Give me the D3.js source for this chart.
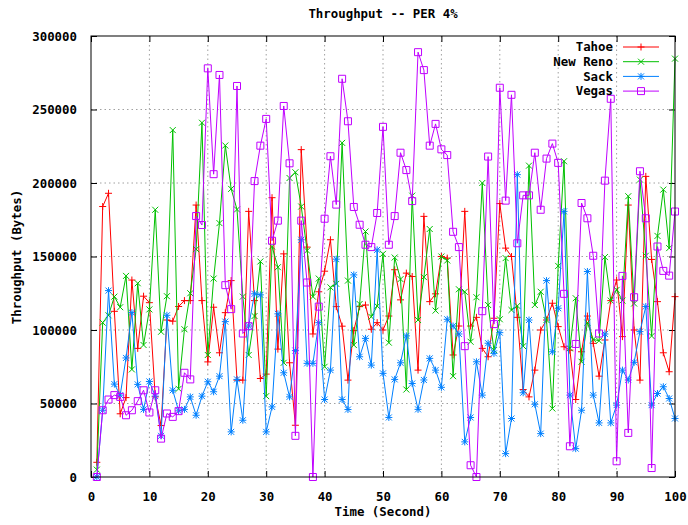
<!DOCTYPE html>
<html><head><meta charset="utf-8">
<script src="https://cdn.jsdelivr.net/npm/d3@7"></script>
<style>
body{margin:0;background:#fff;}
text{font-family:"DejaVu Sans Mono","Liberation Mono",monospace;font-weight:bold;font-size:12.4px;fill:#000;}
</style></head>
<body><svg id="c" width="688" height="525"></svg>
<script>
const times = d3.range(1, 101);
const tahoe = [10000,184000,193000,112700,43000,54000,134000,87500,123000,118600,
54500,35000,106800,106000,116000,120000,120000,185000,120000,78300,
115500,84500,111800,133600,65900,65900,180700,120000,67000,70000,
190000,87000,151800,77700,35200,222700,156400,97300,126000,140000,
161400,115900,102600,65900,99600,115900,117000,100500,105000,100000,
109500,141000,120500,138700,136400,72700,177300,119300,124600,150000,
148900,83000,102700,180700,102700,108600,87500,81800,108000,186000,
155700,150000,108600,59500,54500,72700,100000,106800,118200,102300,
88600,86300,52700,85200,109500,90900,68600,93200,120000,134000,
95500,185000,100000,65900,204500,148000,119300,84500,71600,122700];
const newReno = [5000,105000,110000,122700,115500,136800,73200,131800,89800,114000,
181800,98800,123000,236000,60000,100500,125000,155000,241000,83000,
135000,172700,225500,196000,182000,122700,83000,109500,146600,55000,
156800,142700,77700,203400,207300,184000,154000,122700,135000,75000,
129000,131400,227300,133600,89800,117700,167000,109000,116300,151800,
91400,149300,134600,59500,191400,106800,136000,168700,113200,150000,
147300,68600,127700,126000,92000,122300,200000,117000,86300,107300,
148900,113600,116400,89000,211800,117000,126000,106800,46600,143600,
214800,87500,121600,78400,105000,93600,92700,149600,120000,127300,
120000,191000,118000,202300,150500,95900,164000,195500,155700,284600];
const sack = [0,45400,126800,63200,55700,81000,111800,63000,46000,65000,
55000,28000,110000,59000,45000,46000,54500,42000,55000,64800,
58000,68600,105700,30700,66400,38600,102700,124600,123900,30700,
47700,111000,70900,54500,86000,161400,77300,77300,105000,52700,
72700,148200,52700,45900,137500,81800,94300,76100,154500,70500,
40500,66400,77700,96000,63600,46000,66000,80700,72700,61000,
107300,102700,97300,23900,40500,78400,55700,91000,84100,98200,
15900,39800,205700,57300,106800,49500,29500,133600,85200,114800,
180700,55700,19300,45400,139800,55700,36800,97300,36800,48900,
72700,66000,78000,98900,116000,48900,56800,61400,53400,39800];
const vegas = [0,45400,52700,55700,54500,42000,45400,51600,59000,43900,
59000,26100,43200,40900,44800,70900,66400,177500,171400,278000,
206000,273500,130500,114200,266000,97600,102600,201300,225400,243600,
160700,174400,252400,213400,28000,174400,132300,0,115900,175700,
218200,185300,270900,242000,183700,171600,158000,156400,179600,238200,
158000,177500,220600,208800,187700,289000,276800,225400,240200,222900,
219000,166800,156400,89000,8000,0,112800,218000,104000,264800,
188000,260000,159000,191600,191600,220600,181800,216600,226800,213700,
124600,20900,90500,186400,176000,150500,97600,201600,257300,10700,
136800,30000,122300,208000,176000,6100,156800,140200,137000,180600];
const seriesNames = ["Tahoe","New Reno","Sack","Vegas"];
const xTicks = d3.range(0, 101, 10);
const yTicks = d3.range(0, 300001, 50000);

const colors = ["#ff0000","#00c000","#0080ff","#c000ff"];
const markers = ["plus","cross","star","square"];
const data = [tahoe, newReno, sack, vegas];

const L = 91, R = 675, T = 36, B = 477;
const svg = d3.select("#c");
const x = d3.scaleLinear().domain([0,100]).range([L,R]);
const y = d3.scaleLinear().domain([0,300000]).range([B,T]);

// grid
const g = svg.append("g");
g.selectAll(".gx").data(xTicks.slice(1,-1)).join("line")
  .attr("x1",d=>x(d)).attr("x2",d=>x(d)).attr("y1",T).attr("y2",B)
  .attr("stroke","#a0a0a0").attr("stroke-dasharray","1.5,3").attr("stroke-width",1);
g.selectAll(".gy").data(yTicks.slice(1,-1)).join("line")
  .attr("y1",d=>y(d)).attr("y2",d=>y(d)).attr("x1",L).attr("x2",R)
  .attr("stroke","#a0a0a0").attr("stroke-dasharray","1.5,3").attr("stroke-width",1);

// axes (inward ticks on all sides)
const ax = (gen, tr) => {
  const a = svg.append("g").attr("transform", tr).call(gen);
  a.select(".domain").remove();
  a.selectAll("line").attr("stroke","#000");
  return a;
};
ax(d3.axisBottom(x).tickValues(xTicks).tickSize(-6).tickPadding(15).tickFormat(d3.format("d")), `translate(0,${B})`);
ax(d3.axisTop(x).tickValues(xTicks).tickSize(-6).tickFormat(""), `translate(0,${T})`);
const ly = ax(d3.axisLeft(y).tickValues(yTicks).tickSize(-6).tickPadding(14).tickFormat(d3.format("d")), `translate(${L},0)`);
ax(d3.axisRight(y).tickValues(yTicks).tickSize(-6).tickFormat(""), `translate(${R},0)`);
svg.selectAll(".tick text").attr("font-family",null).attr("font-size",null);
ly.selectAll("text").attr("dy","0.35em");

// series
const markerPath = (type, cx, cy) => {
  const s = 3.5, c = 3;
  if (type === "plus") return `M${cx-s},${cy}H${cx+s}M${cx},${cy-s}V${cy+s}`;
  if (type === "cross") return `M${cx-c},${cy-c}L${cx+c},${cy+c}M${cx-c},${cy+c}L${cx+c},${cy-c}`;
  if (type === "star") return `M${cx-s},${cy}H${cx+s}M${cx},${cy-s}V${cy+s}M${cx-c},${cy-c}L${cx+c},${cy+c}M${cx-c},${cy+c}L${cx+c},${cy-c}`;
  return `M${cx-3.5},${cy-3.5}h7v7h-7Z`;
};
const line = d3.line().x((d,i)=>x(times[i])).y(d=>y(d));
data.forEach((vals, k) => {
  const sg = svg.append("g");
  sg.append("path").datum(vals).attr("d", line).attr("fill","none")
    .attr("stroke", colors[k]).attr("stroke-width", 1);
  sg.selectAll("path.m").data(vals).join("path").attr("class","m")
    .attr("d",(d,i)=>markerPath(markers[k], x(times[i]), y(d)))
    .attr("fill","none").attr("stroke",colors[k]).attr("stroke-width",1);
});

// frame
svg.append("rect").attr("x",L).attr("y",T).attr("width",R-L).attr("height",B-T)
  .attr("fill","none").attr("stroke","#000").attr("stroke-width",1);

// legend
seriesNames.forEach((name, k) => {
  const ry = 47 + k*14.7;
  svg.append("text").attr("x",613).attr("y",ry).attr("dy","0.35em").attr("text-anchor","end").text(name);
  svg.append("line").attr("x1",623).attr("x2",659).attr("y1",ry).attr("y2",ry).attr("stroke",colors[k]);
  svg.append("path").attr("d",markerPath(markers[k],641,ry)).attr("fill","none").attr("stroke",colors[k]);
});

// titles
svg.append("text").attr("x",383).attr("y",14).attr("dy","0.35em").attr("text-anchor","middle").text("Throughput -- PER 4%");
svg.append("text").attr("x",383).attr("y",512).attr("dy","0.35em").attr("text-anchor","middle").text("Time (Second)");
svg.append("text").attr("transform","translate(17,257) rotate(-90)").attr("dy","0.35em").attr("text-anchor","middle").text("Throughput (Bytes)");
</script></body></html>
